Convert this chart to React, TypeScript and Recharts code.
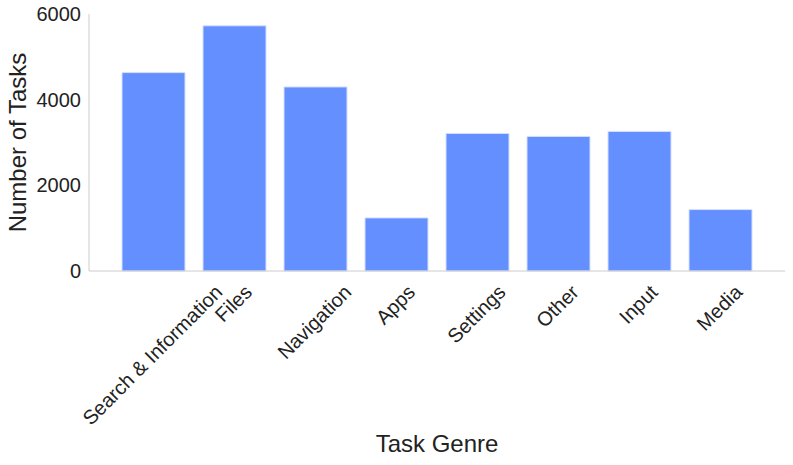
import { BarChart, Bar, XAxis, YAxis } from 'recharts';

const genres = ['Search & Information', 'Files', 'Navigation', 'Apps', 'Settings', 'Other', 'Input', 'Media'];
const taskCounts = [4632, 5724, 4297, 1240, 3212, 3142, 3259, 1434];
const yTicks = [0, 2000, 4000, 6000];

const data = genres.map((g, i) => ({ genre: g, count: taskCounts[i] }));

const FONT = '"Liberation Sans", Arial, Helvetica, sans-serif';
const TEXT = '#222222';
const AXIS = '#cccccc';
const BAR = '#648fff';

let ctx: CanvasRenderingContext2D | null = null;
function textWidth(s: string, size: number) {
  if (!ctx) ctx = document.createElement('canvas').getContext('2d');
  if (!ctx) return s.length * size * 0.5;
  ctx.font = `${size}px ${FONT}`;
  return ctx.measureText(s).width;
}

// rotated 45° label whose bounding box is centred on the tick, top hanging just below the axis
function GenreTick(props: any) {
  const { x, y, payload } = props;
  const fs = 20;
  const L = textWidth(payload.value, fs);
  const asc = 0.74 * fs;
  const desc = 0.2 * fs;
  const k = Math.SQRT1_2;
  const ax = x + (k * (L + asc - desc)) / 2;
  const ay = y + k * asc;
  return (
    <text
      x={ax}
      y={ay}
      textAnchor="end"
      fontSize={fs}
      fontFamily={FONT}
      fill={TEXT}
      transform={`rotate(-45, ${ax}, ${ay})`}
    >
      {payload.value}
    </text>
  );
}

function YLabel(props: any) {
  const vb = props.viewBox;
  const cx = vb.x + 17;
  const cy = vb.y + vb.height / 2;
  return (
    <text
      x={cx}
      y={cy}
      textAnchor="middle"
      dominantBaseline="central"
      fontSize={24}
      fontFamily={FONT}
      fill={TEXT}
      transform={`rotate(-90, ${cx}, ${cy})`}
    >
      Number of Tasks
    </text>
  );
}

export default function App() {
  return (
    <div style={{ position: 'absolute', left: 0, top: 0, background: '#fff' }}>
      <BarChart
        width={793}
        height={465}
        data={data}
        margin={{ top: 14, right: 8, bottom: 0, left: 0 }}
      >
        <XAxis
          dataKey="genre"
          height={194}
          padding={{ left: 24, right: 24 }}
          interval={0}
          stroke={AXIS}
          tickLine={false}
          tickSize={0}
          tickMargin={12}
          tick={<GenreTick />}
          label={{
            value: 'Task Genre',
            position: 'insideBottom',
            offset: 13,
            fontSize: 24,
            fontFamily: FONT,
            fill: TEXT,
          }}
        />
        <YAxis
          width={89}
          domain={[0, 6000]}
          ticks={yTicks}
          interval={0}
          stroke={AXIS}
          tickLine={false}
          tickSize={0}
          tickMargin={8}
          tick={{ fontSize: 20, fontFamily: FONT, fill: TEXT }}
          label={(p: any) => <YLabel {...p} />}
        />
        <Bar
          dataKey="count"
          fill={BAR}
          stroke="#d6e0ff"
          strokeWidth={1}
          barSize={63}
          isAnimationActive={false}
        />
      </BarChart>
    </div>
  );
}
